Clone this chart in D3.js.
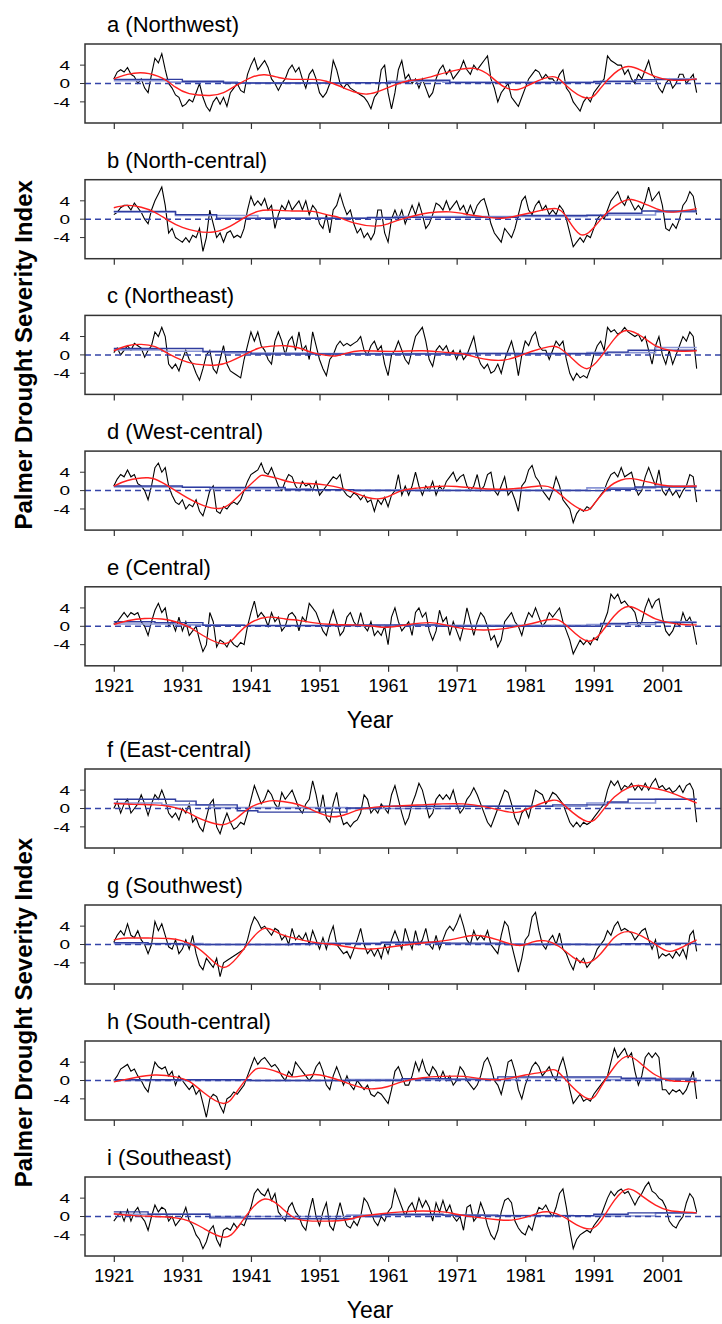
<!DOCTYPE html>
<html>
<head>
<meta charset="utf-8">
<script src="https://cdnjs.cloudflare.com/ajax/libs/d3/7.8.5/d3.min.js"></script>
<style>
  body { margin: 0; background: #fff; }
  text { font-family: "Liberation Sans", Arial, sans-serif; fill: #000; }
</style>
</head>
<body>
<svg id="chart"></svg>
<script>
// half-year samples starting at 1921
var startYear = 1921;
var stepYear = 0.5;
var tickYears = [1921, 1931, 1941, 1951, 1961, 1971, 1981, 1991, 2001];
var yTicks = [-4, 0, 4];
var panelLabels = ["a (Northwest)", "b (North-central)", "c (Northeast)", "d (West-central)", "e (Central)",
  "f (East-central)", "g (Southwest)", "h (South-central)", "i (Southeast)"];

var pdsiA = [1, 2.5, 3, 2.5, 3.5, 2, 1.5, 0, 1, -1,
  -2, 2, 5.5, 4.5, 6.5, 3, 0, -1, -2.5, -3,
  -5, -4.5, -3.5, -4, -2, 0, -3, -5, -6, -4,
  -3, -4.5, -3, -5, -2, -1, 0, -1.5, -2, 2,
  4, 5.5, 3, 4, 5, 3.5, 1, 0, -1.5, 0,
  1, 3, 4, 2.5, 3.5, 1, -1, 2, 3, 1,
  -2, -3, -2, 0, 5, 3, 0, -1, 0, -1,
  -1.5, -2, -2.5, -3, -4, -5.5, -3, -2, 3, 4,
  -2, -5.5, -2, 3, 5, 1, 2, 0, 1, -1,
  1, -1, -3, -2, 1, 3, 4, 2, 3, 1,
  2, 3, 5, 3, 2, 4, 3, 4, 5, 6,
  1, -1, -4, -2, -1, 0, -3, -4, -5, -3,
  -1, 1, 2, 3, 2.5, 1, 2, 1, 1, 0,
  2, 3, -1, -2, -4, -5, -6, -4, -3, -4,
  -2, -1, 0, 1, 6, 5, 4.5, 4, 4, 2,
  3, 1, 0, 2, 1, 3, 5, 2, 1, -1,
  -2, 0, 1, -1, 0, 2, 2, 0, 1, 2,
  -2];
var pdsiB = [1, 1.5, 2.5, 3, 3, 2, 3.5, 2.5, 1.5, 0,
  -1, 2, 4, 5.5, 7, 3, -3, -2, -4, -4.5,
  -5, -4, -5, -3.5, -4, -2, -7, -4, 2, -1,
  -4, -3, -5, -3, -2.5, -4, -3.5, -4, -2, 2,
  5, 3, 4, 3, 4.5, 2, 3, -2, 1, 3,
  2, 4, 2, 3, 4, 2, 4, 1, 3, 2,
  -1, -2, 1, -3, 2, 3, 5.5, 3, 1, 2,
  -1, -3, -2, -4, -3, -4.5, -3, 2, 2, -3,
  -5, 0, 2, 0, 2, -1, 1, 3, 1, 3.5,
  1, -2, -1, 1, 3.5, 3, 2, 4, 2, 3,
  4, 2, 3, 1, 3, 1, 3, 4, 4.5, 2,
  -1, -3, -4, -5, -2, -3, -4, -2, 1, 4,
  5, 2, 1, 3, 4, 2, 3, 1, 2, 1,
  3, 2, 0, -3, -6, -5, -4, -5, -3.5, -4,
  -2, 0, 1, 0, 2, 4, 5, 6, 4, 3,
  5, 3.5, 2, 3, 2, 4, 7, 4, 5, 6,
  3, -2, -2.5, -1, -2, 0, 3, 4, 6, 5,
  1];
var pdsiC = [0.5, 1.5, 0, 1, 2, 1, 2.5, 2, 1.5, -0.5,
  1, 2, 5, 4, 6, 4, -2, -3, -2, -3.5,
  -1, 1, -1, -2, -4, -5.5, -3, 0, 1, -3,
  -4, -1, 2, -2, -3.5, -4, -4.5, -5, -1, 2,
  5, 3, 5, 2, 1, -1, -2, 3, 5, 3,
  0, 3, 4, 1, 5, 1, 2, -1, 5, 2,
  -1, -3, -4.5, -1, 0, 2, 3, 2, 2.5, 2,
  2.5, 3, 4, 1, 0, 2, 3, 1, 2, -2,
  -4.5, 0, 1, 3, 1, -1, -2, 1, 4, 5,
  6, 3, -1, -2.5, 1, 2, 1, 2, 0, 1,
  -1, 1, -1, 0, 2, 4, 0, -2, -3, -2,
  -4, -3.5, -2, -4, -1, 1, 3, 0, -4.5, 0,
  3, 2, 4, 5, 2, 1, 1, -1, 1, 3,
  2, 3, -1, -4, -5.5, -4, -5, -4.5, -5, -3,
  0, 2, 3, 1, 6, 5, 5.5, 4.5, 5, 6,
  5, 4.5, 4, 4.5, 3, 4, 1, -2, 2, 4,
  0, -2, 1, -2, 0, 2, 4, 3, 5, 4,
  -3];
var pdsiD = [1, 2.5, 3.5, 3, 4.5, 3, 3.5, 1.5, 1, 0,
  -2, 1, 5, 6, 4, 5, 1, -1, -2.5, -3,
  -2, -4, -3, -3.5, -2, -4.5, -5.5, -3, 0, 1,
  -4.5, -5, -3.5, -4, -3, -2.5, -3, -2, 0, 2,
  3.5, 4, 4.5, 6, 4, 3.5, 5, 3, 1, 0,
  2, 3.5, 3, 1, 0, 2, 1, 1.5, 0, 2,
  -1, 0, 1, 2, 3, 2.5, 3.5, 0, -1, -1.5,
  -0.5, -1, -2, -1, -2.5, -2, -4.5, -2, -3, -1.5,
  -3.5, -1, 0, 3.5, -1, 1, -1, 1, 4, 1,
  -1, 1, 0, 2, -1, 1, 0, 2, 3, 4,
  2, 3, 3.5, 1, 0, 1, 3.5, 0, 1, 3.5,
  4, 0, -1, 1, 3, -1, 0, -2, -4.5, 1,
  2, 4.5, 5.5, 3, 2, 0, -1, -2, 0, 3,
  1, -2, -3, -4, -7, -5, -4, -4.5, -3.5, -4,
  -3, -2, -1, 0, 2, 3.5, 4, 3, 5, 3,
  3.5, 4, 1, -1, 0, 3, 5, 3, 1, 4.5,
  0, -1, 0.5, -1, 0, -1.5, 0, 1, 3.5, 3,
  -2.5];
var pdsiE = [0.5, 1, 2, 3, 2, 3, 2.5, 3, 1, 0,
  -2, 1, 3.5, 5, 3, 4, 0, 1, -1, 2,
  -1, 1, -2, -1, 0, -3, -5.5, -4, 3, 1,
  -4.5, -3, -3.5, -4.5, -3, -4, -4.5, -3.5, -4, 0,
  3, 5.5, 2, 3, 2, 0, 3, 1, 2, -1,
  0, 2.5, 3, 2, -1, 2, 1, 5, 4, 3,
  1, -1, -2, 1, 3.5, 1, -2, -1, 2, 3,
  1, 0, 3, 0, -1, 1, -2, -1, -2, 0,
  -4, 2, 4, 1, -1, 0, 1, -2, 3, 4,
  2, 3, -1, -3, -1, 3.5, 1, 2, -2, 1,
  -1, -3, 0, 4, 1, -2, 1, 3, 2, 0,
  -3, -2, -4.5, -3, 1, 2, 3, 1, 0, -2,
  1, 3, 2, 4, 2, 0, 1, 3, 2, 3,
  4, 1, -1, -3, -6, -4.5, -3, -4, -3, -4,
  -2.5, -3, -1, 1, 3, 7, 6, 7, 5, 5.5,
  4.5, 4, 3, 0, 1, 4, 6, 4, 5.5, 6,
  2, -1, -2, -1, 1, 0, 3, 1, 2, 0,
  -4];
var pdsiF = [0, 1.5, -1, 1, 2, -1, 0, 1, 3, 1,
  -1.5, 1, 3, 2, 4, 2, -1, -2, -1, -2.5,
  0, -1, 1, -3, -2, -4, -5, -2, 1, 2,
  -4, -5.5, -3, -1, -3, -4.5, -4, -3, -3.5, -1,
  2, 5, 3, 1, 2, 4, 3, 1, 0, 3.5,
  2, 3, 4, 2, 0, -1, 1, 2, 6, 3,
  -1, 3, -2, -3, 1, 3.5, -1, -3.5, -3, -4,
  -3, -2.5, -1, 3, 2, -1, 0, -1, 1, 0,
  -1, 3, 5, 2, -1, -3.5, -2, 1, 3, 5.5,
  4, 1, -2, -1, 2, 3, 2, 3, 2, 4,
  1, -1, 0, 2, 3, 4.5, 3, 1, -1, -3,
  -4, -2, 0, 2, 4, 3.5, 1, -2, -3.5, -1,
  0, -2, 1, 4, 3.5, 3, 1, 2, 3.5, 3,
  2, 1, -1, -3, -4, -3, -4, -3, -3.5, -3,
  -2, -1, 0, 1, 4, 6, 5, 6, 4, 5,
  4.5, 5.5, 4, 5, 4, 5.5, 4, 5.5, 6.5, 4.5,
  5, 4, 4.5, 3.5, 4, 5, 3.5, 5, 5.5, 4,
  -3];
var pdsiG = [0.5, 2, 3, 2, 4.5, 2, 1.5, 3, 1, 0,
  -2, 0, 5, 3, 4.5, 2, -0.5, -1, 1, -2,
  -1, 1, -1, 2, -2, -4.5, -5.5, -3, -4, -5,
  -3, -7, -4, -3.5, -3, -2.5, -2, -1.5, -1, 1,
  4, 6, 5, 3.5, 4, 3, 2, 3.5, 3, 1,
  2, 0, 3.5, 1, 2, 1, 2.5, 0, 3, 1,
  -1, 1.5, -1, 2, 4, 0, -1, -2, -1.5, -3,
  -1, 1, 3.5, 0, -2, -1, -2.5, -1, -3, 0,
  -2, 1, 3, 1, -1, 3.5, 1, -1, 3, 0,
  1, 3.5, 0, -1, 2, -1, 1, 3, 4, 3,
  4.5, 6.5, 4, 1, 0, 3, 1, 2, 1, 3,
  0, -1, -2, 2, 5, 4, 0, -3, -6, -3,
  1, 2, 6, 7, 3, 0, -1, 1, 2, 0,
  2.5, -1, -2, -4, -5.5, -3, -4, -3, -5, -4,
  -3, -1, 0, 1, 3, 2, 4, 5, 3, 3.5,
  3, 2.5, 1, 2, 3, 3.5, 1, -1, 1, -3,
  -2, -2.5, -2, -3, -1.5, -2.5, -1, -3, 2, 3,
  -1.5];
var pdsiH = [0, 1, 2.5, 3, 3.5, 2, 2.5, 1, 0, -1.5,
  -2.5, 1, 4, 3, 2.5, 3, 1, 2, -1, 1,
  0, -1, -2, -1, -3, -2, -5, -8, -4, -3,
  -3.5, -5.5, -7, -4, -3.5, -2.5, -3, -2, -1, 1,
  3, 5, 3.5, 4.5, 5, 4, 3, 3.5, 2.5, 1,
  0, 2, 1, 4, 3, 2, 1, 0, 1, 3,
  4, 2, -1, -2, 1, 3, 1, -1, 1, -1,
  -2, 0, -1, -2, -1, -3, -3.5, -2.5, -3, -4,
  -5, -2, 2, 3, 1, -1, -1, 1, 4, 2,
  4.5, 2, 1, 3, 2, 0, 2, 0, 1, -1,
  0, 3, 2, 0, -1, -2, -1, 1, 4, 5,
  3, 0, -1, -3, 0, 4, 4.5, 2, -2, -4,
  -1, 1, 3, 4, 3, 1, 2, 3, 1, 0,
  3, 5, 2, -2, -5, -4, -3, -4.5, -4, -4.5,
  -3, -2, -1, 0, 1, 4, 7, 5, 6, 7,
  5, 6, 2, -1, 1, 5, 6, 5, 6, 5,
  -2, -2, -3, -2, -2.5, -2, -3, -2, 0, 2,
  -4];
var pdsiI = [-1, 0, 1, -1, 1.5, -1, 1, 2, 0, -1,
  -3, 0, 2.5, 1, 2, 1.5, -1, 0, -2, -1,
  0, 2, -1, -2, -4, -5, -7, -5.5, -3, -2,
  -5, -6.5, -3, -2.5, -3, -1.5, -2.5, -1.5, -2, 0,
  2, 5, 6, 5, 4.5, 6, 3.5, 5, 1, 0,
  -1, 2, 3, 1, 0, -2, -3, 1, 4, 0,
  -2, 1, 3, -2, -3, 0, 3, 0, -2, -2.5,
  -1, -2, 0, 4, 3, 1, -1, -2, 0, -1,
  1, 2, 6, 4, 2, 0, 2, 3, 1, 4,
  2, 3.5, 2, -1, 3, 1, 3.5, 1, 2.5, 0,
  -1, 0, -3, 2, 2.5, -1, 0, 3, 1, -2,
  -4, -5, -3, 1, 3.5, 4, 3, -1, -2.5, -3.5,
  -4, -2, -3, 0, 2, 1.5, 2.5, 1, 0, 2,
  5, 6, 2, -3, -7, -5, -4, -3.5, -3, -3.5,
  -2, -1, 0, 2, 4, 5.5, 4.5, 5.5, 6, 5,
  5.5, 4, 2.5, 4, 5, 6.5, 7.5, 5.5, 5, 4,
  3.5, 2, -1, -2, -2.5, -1, 0, 3, 5, 4,
  1];

// smoothed curve read as [year, value]
var smoothA = [[1921,1],[1923,2],[1925.5,2.3],[1928,1.2],[1930,-0.8],[1932,-2.2],[1935,-2.6],[1937,-2],[1939,-0.3],[1941,1.3],[1943,1.9],[1945,1.3],[1947,0.9],[1950,0.9],[1952,0.5],[1954,-0.6],[1956,-1.8],[1958,-2.3],[1960,-1.5],[1962,-0.3],[1964,0.6],[1966,1],[1968,1.8],[1970,2.6],[1973.5,3.3],[1976,1.5],[1978,-0.8],[1980,-1.3],[1982,0],[1985,1.5],[1987,-0.5],[1990,-3.2],[1992,-1],[1994,2.2],[1996,3.7],[1998,2.8],[2000,1.5],[2002,0.8],[2004,0.7],[2006,1]];
var smoothB = [[1921,2.5],[1923,3],[1925,2.6],[1927,1.5],[1929,-0.3],[1931,-1.8],[1933,-2.6],[1935.5,-2.8],[1938,-1.5],[1940,0.3],[1942,1.7],[1944,2],[1947,1.8],[1950,1.7],[1952,1],[1954,0.3],[1956,-0.8],[1959,-1.5],[1961,-1],[1963,0],[1965,0.8],[1967,1.4],[1970,1.6],[1972,1.2],[1975,0.5],[1977.5,0.2],[1980,0.8],[1983,1.8],[1985.5,2.3],[1987,0.5],[1989,-3.3],[1991,-1.8],[1993,1.5],[1995,3.7],[1996.5,4.3],[1998.5,3.3],[2001,1.8],[2003,1.6],[2006,2.3]];
var smoothC = [[1921,0.9],[1923,2],[1925,2.3],[1927,1.8],[1929,0.2],[1931,-1.2],[1933,-2],[1936,-2.2],[1938,-1.4],[1940,0],[1942,1.4],[1944,1.9],[1946,2],[1948,1.5],[1950,0.5],[1952,-0.1],[1953.5,-0.2],[1955,0.4],[1957,0.9],[1960,0.8],[1963,0.8],[1966,0.9],[1969,0.6],[1972,0.2],[1974,-0.6],[1976,-1.1],[1978,-1.1],[1980,-0.3],[1982,0.8],[1984.5,1.8],[1986,1.5],[1988,-1],[1990,-3],[1992,-0.5],[1994,3.5],[1995.8,5.3],[1998,4],[2000,2],[2002,1],[2004,0.8],[2006,0.9]];
var smoothD = [[1921,1],[1923,2.2],[1926,2.8],[1928,1.8],[1930,0],[1932,-1.8],[1934,-3.2],[1936.3,-3.9],[1938,-2.8],[1940,0],[1942,2.8],[1943,3.3],[1945,2.6],[1947,1.8],[1950,1.5],[1952,1.2],[1954,0.6],[1956,-0.4],[1958,-1.5],[1959.5,-1.8],[1961,-1.3],[1963,0],[1965,0.5],[1968,0.9],[1971,0.9],[1974,0.5],[1977,0.3],[1980,0.5],[1983,1],[1985,0.5],[1987,-2],[1989.5,-4.3],[1991,-3],[1993,0.5],[1995,2.3],[1996.5,2.6],[1998,2.2],[2000,1.5],[2002,1],[2006,1]];
var smoothE = [[1921,0.4],[1923,1.2],[1925.5,1.7],[1928,1.6],[1930,1],[1932,-0.2],[1934,-2],[1937,-3.8],[1939,-1.8],[1941,0.8],[1943.5,2],[1946,1.6],[1948,1.3],[1950,0.8],[1953,0.4],[1956,0.3],[1959,0],[1961,-0.2],[1964,0.4],[1967,0.8],[1969,0.4],[1972,-0.5],[1975,-0.8],[1978,-0.5],[1981,0.3],[1983,1],[1985.5,1.5],[1987.5,-0.5],[1990,-3.2],[1992,-1.5],[1994,2.3],[1996,4.3],[1998,3.2],[2000,1.6],[2002,0.8],[2004,0.4],[2006,0.3]];
var smoothF = [[1921,1.1],[1924,0.9],[1927,0.8],[1929,0.5],[1931,-0.3],[1933,-1.8],[1935,-3],[1937,-3.5],[1939,-2],[1941,0.3],[1943,1.4],[1944.5,1.7],[1947,1.2],[1949,0.3],[1951,-1],[1953,-1.8],[1955,-1.2],[1957,-0.2],[1960,0.4],[1963,0.6],[1966,0.8],[1969,1],[1972,1],[1975,0.4],[1978,-0.6],[1980,-0.8],[1982,0.3],[1985,1.8],[1987,0.3],[1990,-2.8],[1992,-1],[1994,2.5],[1996,4.5],[1997.5,5],[1999,4.6],[2001,4],[2003,3],[2006,1.2]];
var smoothG = [[1921,1],[1923,1.4],[1926,1.4],[1929,1.3],[1931,0.8],[1933,-0.5],[1935,-3],[1937,-5],[1939,-2.8],[1941,1],[1943,3.5],[1945,2.5],[1947,1.5],[1949,0.8],[1951,0.3],[1953,0],[1955,-0.5],[1958,-1],[1961,-0.6],[1964,0],[1967,0.5],[1970,1],[1973,1.9],[1975,1.8],[1977,1],[1980,-0.2],[1982,0.5],[1984,0.8],[1986,-0.5],[1988,-2.8],[1990,-4],[1992,-2],[1994,1.5],[1996,2.8],[1998,1.8],[2000,0],[2002,-1.5],[2004,-0.5],[2006,1]];
var smoothH = [[1921,-0.3],[1924,0.6],[1927,1.2],[1930,0.8],[1932,-0.2],[1934,-2.5],[1937,-5],[1939,-2.3],[1941,1.5],[1942.5,2.7],[1945,1.8],[1947,0.8],[1950,1.3],[1952,0.9],[1954,0],[1957,-1.5],[1959,-1.8],[1961,-1.3],[1963,-0.3],[1966,0.6],[1969,0.9],[1972,0.9],[1975,0.3],[1978,0.3],[1981,1.2],[1984,2],[1985.5,2.2],[1987.5,-0.8],[1990.3,-4],[1992,-1.5],[1994,3],[1996,5.3],[1998,3.5],[2000,1.2],[2002,0],[2004,-0.2],[2006,-0.3]];
var smoothI = [[1921,0.6],[1924,0.2],[1927,0],[1930,-0.3],[1932,-1],[1934,-2.5],[1937,-4.5],[1939,-2.5],[1941,1.5],[1943,3.8],[1945,2.5],[1947,0],[1949,-0.9],[1952,-1],[1955,-0.7],[1957,0],[1960,0.6],[1963,1],[1966,1.2],[1969,1],[1971,0.5],[1974,-0.2],[1977,-0.7],[1979,-0.8],[1981,-0.2],[1983,0.8],[1984.5,1],[1986.5,0],[1988.5,-1.8],[1990.5,-2.7],[1992,-1],[1994,3.5],[1996,6],[1998,4.5],[2000,2.5],[2002,1.3],[2004,1],[2006,0.8]];

// step means [start year, value], dark and light blue
var stepsA = [[1921,0.9],[1931,0.5],[1937,0.1],[1955,0.2],[1964,0.7],[1970,0.2],[1991,0.45],[1997,0.85]];
var stepsA2 = [[1921,0.6],[1929,0.3],[1939,0.1],[1961,0.5],[1969,0.3],[1992,0.5],[2000,1.0]];
var stepsB = [[1921,1.7],[1930,1.0],[1936,0.2],[1958,0.4],[1980,0.8],[1993,1.3],[1998,1.8]];
var stepsB2 = [[1921,1.5],[1930,0.8],[1942,0.2],[1962,0.6],[1978,0.6],[1990,0.9],[2000,1.6]];
var stepsC = [[1921,1.4],[1934,0.7],[1941,0.2],[1972,0.3],[1993,0.6],[1996,1.0]];
var stepsC2 = [[1921,1.1],[1928,0.8],[1937,0.4],[1950,0.3],[1980,0.2],[1990,0.5],[2000,1.6]];
var stepsD = [[1921,1.0],[1931,0.7],[1946,0.2],[1956,0],[1993,0.3],[1997,0.8]];
var stepsD2 = [[1921,0.8],[1935,0.4],[1950,0.2],[1963,0.1],[1990,0.6],[2000,1.0]];
var stepsE = [[1921,1.0],[1927,0.8],[1934,0.2],[1956,0.3],[1968,0],[1992,0.6],[1996,0.8]];
var stepsE2 = [[1921,0.5],[1930,0.3],[1940,0.1],[1962,0.2],[1990,0.4],[2000,1.0]];
var stepsF = [[1921,2.0],[1930,1.6],[1933,0.8],[1939,-0.5],[1942,-0.8],[1955,0.1],[1960,0.5],[1985,0.8],[1993,1.4],[1996,2.0]];
var stepsF2 = [[1921,1.2],[1928,0.8],[1935,0.2],[1955,0],[1970,0.5],[1990,1.2],[2000,2.0]];
var stepsG = [[1921,0.4],[1926,0.2],[1931,0],[1947,0.2],[1960,0.5],[1968,0.3],[1978,0],[1995,0.2]];
var stepsG2 = [[1921,0.2],[1934,0],[1950,0.3],[1970,0.1],[1990,0],[2000,0.3]];
var stepsH = [[1921,0.2],[1941,0],[1963,0.4],[1970,0.3],[1977,0.8],[1995,0.5],[2000,0.3]];
var stepsH2 = [[1921,0],[1955,0.2],[1980,0.6],[1993,0.2],[2001,0.5]];
var stepsI = [[1921,1.0],[1926,0.5],[1935,-0.3],[1940,-0.5],[1956,0],[1960,0.5],[1969,0.3],[1977,0.2],[1991,0.5],[1996,0.8]];
var stepsI2 = [[1921,0.5],[1935,0],[1955,0.3],[1975,0.2],[1988,0.1],[2000,0.8]];

var panels = [
  { pdsi: pdsiA, smooth: smoothA, steps: stepsA, steps2: stepsA2 },
  { pdsi: pdsiB, smooth: smoothB, steps: stepsB, steps2: stepsB2 },
  { pdsi: pdsiC, smooth: smoothC, steps: stepsC, steps2: stepsC2 },
  { pdsi: pdsiD, smooth: smoothD, steps: stepsD, steps2: stepsD2 },
  { pdsi: pdsiE, smooth: smoothE, steps: stepsE, steps2: stepsE2 },
  { pdsi: pdsiF, smooth: smoothF, steps: stepsF, steps2: stepsF2 },
  { pdsi: pdsiG, smooth: smoothG, steps: stepsG, steps2: stepsG2 },
  { pdsi: pdsiH, smooth: smoothH, steps: stepsH, steps2: stepsH2 },
  { pdsi: pdsiI, smooth: smoothI, steps: stepsI, steps2: stepsI2 },
];
panels.forEach((p, i) => (p.label = panelLabels[i]));

var width = 722, height = 1324;
var boxL = 85, boxR = 721, boxH = 79;
var endYear = 2006;

var svg = d3.select("#chart").attr("width", width).attr("height", height);

var x = d3.scaleLinear().domain([1916.8, 2009.55]).range([boxL, boxR]);

// two groups of panels, each with its own year axis and axis title
var groups = [
  { top: 44, step: 135.7, idx: [0, 1, 2, 3, 4] },
  { top: 769, step: 136, idx: [5, 6, 7, 8] },
];

groups.forEach((grp) => {
  let lastBottom = 0;
  grp.idx.forEach((pi, k) => {
    let top = grp.top + k * grp.step;
    drawPanel(panels[pi], top, k == grp.idx.length - 1);
    lastBottom = top + boxH;
  });
  // Year title
  svg.append("text")
    .attr("x", 370)
    .attr("y", lastBottom + 62)
    .attr("text-anchor", "middle")
    .style("font-size", "23px")
    .text("Year");
  // y axis title
  let mid = (grp.top + lastBottom) / 2;
  svg.append("text")
    .attr("transform", `translate(32,${mid}) rotate(-90)`)
    .attr("text-anchor", "middle")
    .style("font-size", "24px")
    .style("font-weight", "bold")
    .text("Palmer Drought Severity Index");
});

function drawPanel(p, top, showYears) {
  let y = d3.scaleLinear().domain([-8.6, 8.6]).range([top + boxH, top]);
  let g = svg.append("g");

  g.append("text")
    .attr("x", 107)
    .attr("y", top - 12)
    .style("font-size", "22px")
    .text(p.label);

  // clip so lines stay inside the frame
  let cid = "clip" + Math.round(top);
  svg.append("clipPath").attr("id", cid)
    .append("rect").attr("x", boxL).attr("y", top).attr("width", boxR - boxL).attr("height", boxH);
  let plot = g.append("g").attr("clip-path", `url(#${cid})`);

  // PDSI series
  let line = d3.line()
    .x((d, i) => x(startYear + i * stepYear))
    .y((d) => y(d));
  plot.append("path")
    .attr("d", line(p.pdsi))
    .attr("fill", "none")
    .attr("stroke", "#000")
    .attr("stroke-width", 1.1);

  // step means
  let step = d3.line().curve(d3.curveStepAfter)
    .x((d) => x(d[0]))
    .y((d) => y(d[1]));
  let s2 = p.steps2.concat([[endYear, p.steps2[p.steps2.length - 1][1]]]);
  plot.append("path")
    .attr("d", step(s2))
    .attr("fill", "none")
    .attr("stroke", "#8b96d6")
    .attr("stroke-width", 1.6);
  let s1 = p.steps.concat([[endYear, p.steps[p.steps.length - 1][1]]]);
  plot.append("path")
    .attr("d", step(s1))
    .attr("fill", "none")
    .attr("stroke", "#2f3c9e")
    .attr("stroke-width", 1.4);

  // zero reference
  plot.append("line")
    .attr("x1", boxL).attr("x2", boxR)
    .attr("y1", y(0)).attr("y2", y(0))
    .attr("stroke", "#3444a8")
    .attr("stroke-width", 1.5)
    .attr("stroke-dasharray", "6,4");

  // smooth curve
  let smooth = d3.line().curve(d3.curveNatural)
    .x((d) => x(d[0]))
    .y((d) => y(d[1]));
  plot.append("path")
    .attr("d", smooth(p.smooth))
    .attr("fill", "none")
    .attr("stroke", "#ff2020")
    .attr("stroke-width", 1.4);

  // frame
  g.append("rect")
    .attr("x", boxL).attr("y", top)
    .attr("width", boxR - boxL).attr("height", boxH)
    .attr("fill", "none")
    .attr("stroke", "#333")
    .attr("stroke-width", 1.5);

  // y axis ticks and squat labels
  yTicks.forEach((v) => {
    g.append("line")
      .attr("x1", 80).attr("x2", boxL)
      .attr("y1", y(v)).attr("y2", y(v))
      .attr("stroke", "#333");
    g.append("text")
      .attr("transform", `translate(70,${y(v)}) scale(1,0.7)`)
      .attr("dy", "0.36em")
      .attr("text-anchor", "end")
      .style("font-size", "19px")
      .text(v);
  });

  // x axis
  let axis = d3.axisBottom(x).tickValues(tickYears).tickSize(6).tickFormat(showYears ? d3.format("d") : "");
  let ax = g.append("g")
    .attr("transform", `translate(0,${top + boxH})`)
    .call(axis);
  ax.select(".domain").remove();
  ax.selectAll(".tick line").attr("stroke", "#333").attr("stroke-width", 1.2);
  ax.selectAll(".tick text")
    .attr("y", 26)
    .attr("dy", 0)
    .style("font-size", "18px")
    .style("font-family", '"Liberation Sans", Arial, sans-serif');
}
</script>
</body>
</html>
